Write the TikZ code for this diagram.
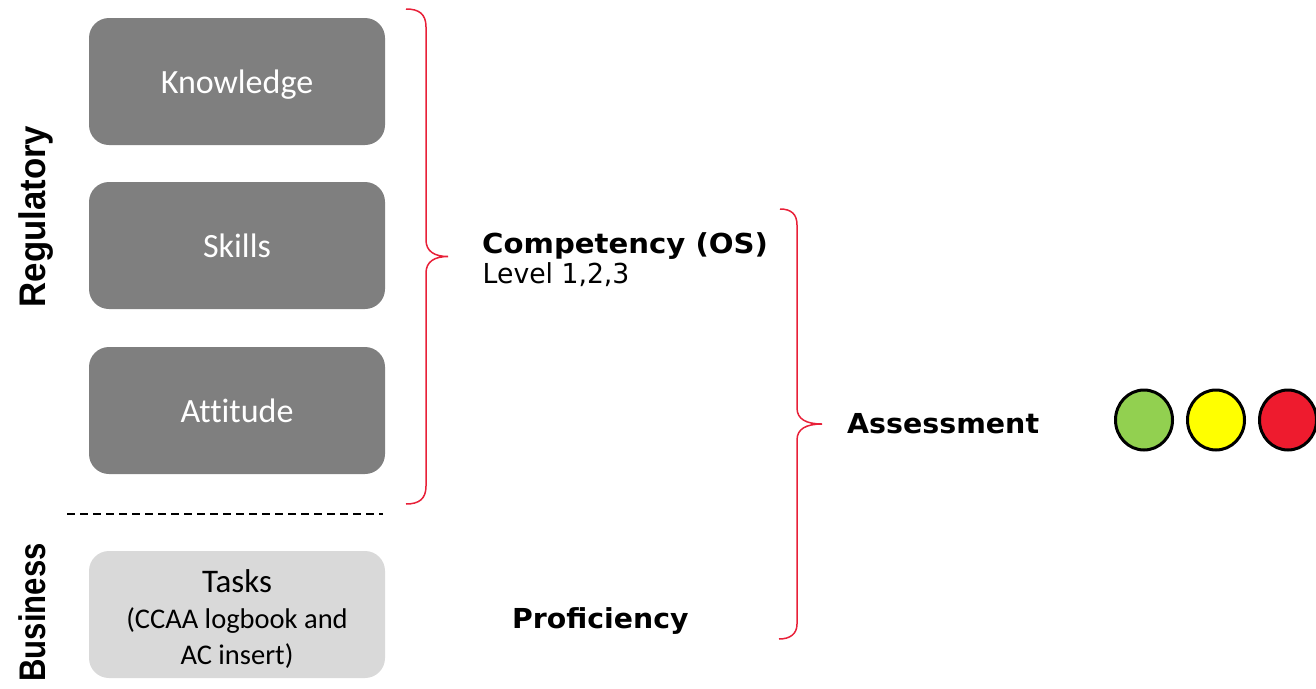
\documentclass[tikz,border=0pt]{standalone}
\usepackage{fontspec}
\usepackage{graphicx}
\usetikzlibrary{shapes.geometric}
\newfontfamily\boxfont[Ligatures=NoCommon]{Carlito}
\newfontfamily\headfont{DejaVu Sans}
\newfontfamily\sidefont{Liberation Sans}
\definecolor{boxgray}{HTML}{7F7F7F}
\definecolor{taskgray}{HTML}{D9D9D9}
\definecolor{bracered}{RGB}{232,32,56}
\definecolor{lampgreen}{HTML}{92D050}
\definecolor{lampyellow}{HTML}{FFFF00}
\definecolor{lampred}{HTML}{EE1B2E}
\begin{document}
\begin{tikzpicture}[x=1pt,y=-1pt,
  darkbox/.style={fill=boxgray, rounded corners=20pt, minimum width=296pt,
    minimum height=127pt, inner sep=0pt, text=white,
    font=\boxfont\fontsize{34}{40}\selectfont, text height=23pt, text depth=0pt},
  lightbox/.style={fill=taskgray, rounded corners=20pt, minimum width=296pt,
    minimum height=127pt, inner sep=0pt},
  tasktext/.style={anchor=base, inner sep=0pt, text=black},
  heading/.style={anchor=base west, inner sep=0pt,
    font=\headfont\bfseries\fontsize{27.5}{32}\selectfont},
  subheading/.style={anchor=base west, inner sep=0pt,
    font=\headfont\fontsize{27.5}{32}\selectfont},
  sidelabel/.style={rotate=90, anchor=base, inner sep=0pt,
    font=\sidefont\bfseries\fontsize{37}{40}\selectfont},
  bracket/.style={draw=bracered, line width=1.5pt},
  divider/.style={draw=black, line width=2pt, dash pattern=on 8pt off 5pt},
  lamp/.style={ellipse, draw=black, line width=3pt, minimum width=57pt,
    minimum height=60pt, inner sep=0pt}
]
\useasboundingbox (0,0) rectangle (1316,688);

% side labels
\node[sidelabel] (regulatory) at (45.5,216.5) {\scalebox{0.94}[1]{Regulatory}};
\node[sidelabel] (business) at (45.5,612.5) {\scalebox{0.84}[1]{Business}};

% regulatory building blocks
\node[darkbox] (knowledge) at (237,81.5) {Knowledge};
\node[darkbox] (skills) at (237,245.5) {Skills};
\node[darkbox] (attitude) at (237,410.5) {Attitude};

% separator between regulatory and business
\coordinate (divL) at (67,514);
\coordinate (divR) at (383,514);
\draw[divider] (divL) -- (divR);

% business block
\node[lightbox] (tasks) at (237,614.5) {};
\node[tasktext, font=\boxfont\fontsize{33}{36}\selectfont] (taskstitle) at (237,592) {Tasks};
\node[tasktext, font=\boxfont\fontsize{28.5}{34}\selectfont] (tasksnoteA) at (237,628.5) {(CCAA logbook and};
\node[tasktext, font=\boxfont\fontsize{28.5}{34}\selectfont] (tasksnoteB) at (237,664) {AC insert)};

% brace grouping knowledge, skills and attitude
\draw[bracket] (406,9) .. controls (419,9) and (426,14) .. (426,27)
  -- (426,240) .. controls (426,251) and (434,256.5) .. (448,256.5)
  .. controls (434,256.5) and (426,262) .. (426,273)
  -- (426,486) .. controls (426,499) and (419,504) .. (406,504);

% competency and proficiency
\node[heading] (competency) at (482,253) {\scalebox{1.06}[1]{Competency (OS)}};
\node[subheading] (level) at (482.5,283) {\scalebox{0.97}[1]{Level 1,2,3}};
\node[heading] (proficiency) at (512,628) {\scalebox{1.03}[1]{Proficiency}};

% brace grouping competency and proficiency
\draw[bracket] (780,209) .. controls (791,209) and (797,214) .. (797,225)
  -- (797,408) .. controls (797,419) and (806,424) .. (822,424)
  .. controls (806,424) and (797,429) .. (797,440)
  -- (797,624) .. controls (797,634) and (790,639) .. (779,639);

% assessment outcome
\node[heading] (assessment) at (847,433) {\scalebox{1.035}[1]{Assessment}};
\node[lamp, fill=lampgreen] (go) at (1144,420) {};
\node[lamp, fill=lampyellow] (caution) at (1216,420) {};
\node[lamp, fill=lampred] (stop) at (1288,420) {};
\end{tikzpicture}
\end{document}
